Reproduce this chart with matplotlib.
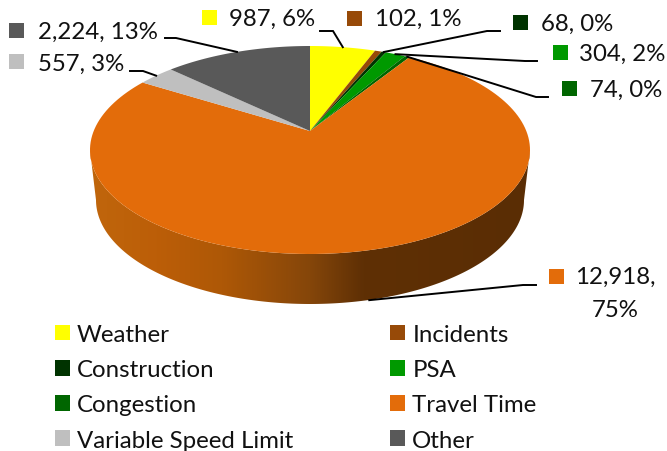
import numpy as np
import matplotlib
matplotlib.use("Agg")
import matplotlib.pyplot as plt
from matplotlib.colors import LinearSegmentedColormap
from matplotlib.patches import Patch, Polygon

plt.rcParams["font.family"] = "Lato"

categories = ["Weather", "Incidents", "Construction", "PSA", "Congestion",
              "Travel Time", "Variable Speed Limit", "Other"]
values = [987, 102, 68, 304, 74, 12918, 557, 2224]
percents = [6, 1, 0, 2, 0, 75, 3, 13]
colors = ["#FFFF00", "#974A08", "#003300", "#009900", "#006600",
          "#E36C0A", "#BFBFBF", "#595959"]

# pie geometry, pixels
cx, cy = 310, 151
rx, ry = 220, 104
apex_up = 19
depth = 50
wall_rx = 214
k = apex_up / ry
ax_x = rx * np.sqrt(1 - k ** 2)
font = 17.3

# marker x, marker y, text x, text y
label_pos = [(209, 18, 229, 19), (354, 19, 375, 19), (520, 23, 541, 24), (560, 53, 579, 54),
             (569, 89, 590, 90), (556, 277, 0, 0), (16, 62, 38, 64), (16, 31, 38, 32)]
# elbow start x, elbow end x, y
elbows = [(320, 333, 32), None, (500, 487, 32), (537, 525, 62),
          (548, 536, 98), (536, 523, 286), (130, 143, 72), (165, 176, 39)]


def project(theta, wall=False):
    # circle angle (clockwise from top) to picture, perspective so apex sits above ellipse centre
    u, v = np.sin(theta), np.cos(theta)
    d = 1 + k * v
    x = cx + ax_x * u / d
    y = cy - (ry * v + apex_up) / d
    return x, y + depth if wall else y


fig = plt.figure(figsize=(6.67, 4.52), dpi=100)
ax = fig.add_axes([0, 0, 1, 1])

# side wall with shading, bottom rim a little narrower than the top
t = np.linspace(0, np.pi, 200)
top_x = cx + rx * np.cos(t)
top_y = cy + ry * np.sin(t)
low_x = cx + wall_rx * np.cos(t)
low_y = cy + depth + ry * np.sin(t)
wall = np.column_stack([np.r_[top_x, low_x[::-1]], np.r_[top_y, low_y[::-1]]])
shade = LinearSegmentedColormap.from_list("shade", [
    (0.0, "#C0660C"), (0.15, "#BC5E08"), (0.3, "#AE5806"), (0.5, "#85460A"),
    (0.62, "#5F3005"), (1.0, "#5A2D04")])
img = ax.imshow(np.linspace(0, 1, 256)[None, :], extent=(cx - rx, cx + rx, cy + ry + depth, cy),
                cmap=shade, aspect="auto", zorder=1)
clip = Polygon(wall, closed=True, transform=ax.transData, facecolor="none", edgecolor="none")
ax.add_patch(clip)
img.set_clip_path(clip)

# slices
edges = np.r_[0, np.cumsum(values)] / np.sum(values) * 2 * np.pi
for i, c in enumerate(colors):
    th = np.linspace(edges[i], edges[i + 1], 150)
    x, y = project(th)
    ax.fill(np.r_[cx, x], np.r_[cy - apex_up, y], color=c, lw=0, zorder=2)

# leaders
for i, el in enumerate(elbows):
    if el is None:
        continue
    mid = (edges[i] + edges[i + 1]) / 2
    ex, ey = project(mid, wall=categories[i] == "Travel Time")
    ax.plot([el[0], el[1], ex], [el[2], el[2], ey], color="black", lw=1.4, zorder=3,
            solid_joinstyle="miter")

# data labels
for i, pos in enumerate(label_pos):
    ax.plot(pos[0], pos[1], "s", ms=10.8, mew=0, color=colors[i], zorder=4)
    if categories[i] == "Travel Time":
        ax.text(615, 277, f"{values[i]:,},", fontsize=font, ha="center", va="center", color="#111111")
        ax.text(615, 311, f"{percents[i]}%", fontsize=font, ha="center", va="center", color="#111111")
    else:
        ax.text(pos[2], pos[3], f"{values[i]:,}, {percents[i]}%", fontsize=font, va="center", color="#111111")

# legend, filled row by row in the picture
order = [0, 2, 4, 6, 1, 3, 5, 7]
handles = [Patch(facecolor=colors[i], label=categories[i]) for i in order]
ax.legend(handles=handles, ncols=2, loc="upper left", bbox_to_anchor=(55 / 667, 1 - 325 / 452),
          frameon=False, fontsize=font, borderaxespad=0, borderpad=0, handlelength=0.62,
          handleheight=0.62, handletextpad=0.3, labelspacing=0.59, columnspacing=4.03,
          labelcolor="#111111")

ax.set_xlim(0, 667)
ax.set_ylim(452, 0)
ax.axis("off")
fig.savefig("out.png", dpi=100)
